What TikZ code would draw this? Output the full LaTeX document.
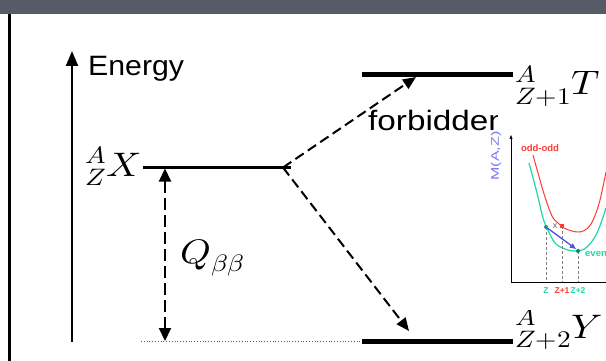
\documentclass[tikz,border=0pt]{standalone}
\usepackage{fontspec}
\usepackage{unicode-math}
\newfontfamily\hel{Liberation Sans}
\usetikzlibrary{arrows.meta,calc}
\definecolor{topbar}{HTML}{575B67}
\definecolor{oddred}{HTML}{FF3B30}
\definecolor{eventeal}{HTML}{22D6A8}
\definecolor{mblue}{HTML}{7A78EE}
\definecolor{arrblue}{HTML}{4F4FE0}
\tikzset{
  levelline/.style={line width=4.5pt},
  xlevelline/.style={line width=3pt},
  axisline/.style={line width=2pt,-{Triangle[length=15pt,width=12pt]}},
  qarrow/.style={line width=2pt,dash pattern=on 12pt off 5pt,{Triangle[length=13pt,width=12pt]}-{Triangle[length=13pt,width=12pt]}},
  decay/.style={line width=2pt,dash pattern=on 10pt off 5pt,-{Triangle[length=13pt,width=11pt]}},
  bigtxt/.style={inner sep=0pt,font=\hel\fontsize{28}{32}\selectfont,xscale=1.08},
  mathlbl/.style={inner sep=0pt,font=\fontsize{34}{40}\selectfont,xscale=1.15},
  small/.style={inner sep=0pt,font=\hel\bfseries\fontsize{8.5}{10}\selectfont},
  guide/.style={gray,densely dashed,line width=0.5pt},
}
\begin{document}
\begin{tikzpicture}[x=1pt,y=-1pt]
\useasboundingbox (0,0) rectangle (606,361);
\clip (0,0) rectangle (606,361);
\fill[topbar] (0,0) rectangle (606,14);
\draw[line width=3pt] (9.5,14) -- (9.5,361);
% energy axis
\coordinate (axb) at (72,342);
\coordinate (axt) at (72,51);
\draw[axisline] (axb) -- (axt);
\node[bigtxt,anchor=base west] (energy) at (88,76) {Energy};
% X level
\coordinate (xl) at (143,167.5);
\coordinate (xr) at (291,167.5);
\draw[xlevelline] (xl) -- (xr);
\node[mathlbl,anchor=base east] (xlab) at (141,176) {${}^{A}_{Z}X$};
\coordinate (vx) at (283,167.5);
% T level
\coordinate (tl) at (362,74.5);
\coordinate (tr) at (513,74.5);
\draw[levelline] (tl) -- (tr);
\node[mathlbl,anchor=base west] (tlab) at (515,95) {${}^{A}_{Z+1}T$};
% Y level
\coordinate (yl) at (362,341.5);
\coordinate (yr) at (513,341.5);
\draw[levelline] (yl) -- (yr);
\node[mathlbl,anchor=base west] (ylab) at (515,338) {${}^{A}_{Z+2}Y$};
% dotted reference
\coordinate (dl) at (141,341.5);
\draw[gray!70!black,dotted,line width=0.8pt] (dl) -- (yl);
% Q arrow
\coordinate (qt) at (165,168.5);
\coordinate (qb) at (165,341);
\draw[qarrow] (qb) -- (qt);
\node[mathlbl,anchor=base west] (qlab) at (180,263) {$Q_{\beta\beta}$};
% decays
\coordinate (tend) at (416,77);
\coordinate (yend) at (409,331);
\draw[decay] (vx) -- (tend);
\draw[decay] (vx) -- (yend);
\node[bigtxt,anchor=base west,xscale=1.1] (forb) at (368,131) {forbidden};
% inset
\fill[white] (498,110) rectangle (606,310);
\coordinate (io) at (511,282);
\coordinate (iy) at (511,135);
\coordinate (ix) at (606,282);
\draw[line width=0.6pt,-{Triangle[length=4pt,width=3pt]}] (io) -- (iy);
\draw[line width=0.6pt] (io) -- (ix);
\node[rotate=90,inner sep=0pt,text=mblue,font=\hel\fontsize{11}{13}\selectfont] (mlab) at (496,156) {\scalebox{1.45}[1]{M(A,Z)}};
\node[small,text=oddred,font=\hel\bfseries\fontsize{9.5}{11}\selectfont] (oddlab) at (540,148) {odd-odd};
\draw[oddred,line width=1pt] plot[smooth,tension=0.6] coordinates {(533,155) (538,173) (545,197) (552,216) (558,223) (564,228) (572,231) (580,232) (588,228) (594,218) (600,200) (606,172)};
\draw[eventeal,line width=1.2pt] plot[smooth,tension=0.6] coordinates {(529,163) (537,193) (543,218) (548,230) (555,243) (565,249) (577,251) (587,247) (597,233) (606,208)};
\coordinate (pz) at (546,227);
\coordinate (pz1) at (562,226);
\coordinate (pz2) at (578,251);
\coordinate (bz) at (546,282);
\coordinate (bz1) at (562,282);
\coordinate (bz2) at (578,282);
\draw[guide] (pz) -- (bz);
\draw[guide] (pz1) -- (bz1);
\draw[guide] (pz2) -- (bz2);
\draw[arrblue,line width=1.3pt,-{Triangle[length=6pt,width=5pt]}] (pz) -- (576,249);
\fill[eventeal!70!black] (pz) circle (2pt);
\fill[oddred] ($(pz1)+(-2,-2)$) rectangle ($(pz1)+(2,2)$);
\fill[eventeal!60!black] (pz2) circle (2pt);
\node[inner sep=0pt,text=gray!80!black,font=\hel\fontsize{9}{10}\selectfont] (cross) at (555,226) {x};
\node[small,text=eventeal] (zl) at (546,291) {Z};
\node[small,text=oddred] (z1l) at (562,291) {Z+1};
\node[small,text=eventeal] (z2l) at (578,291) {Z+2};
\node[small,anchor=west,text=eventeal,font=\hel\bfseries\fontsize{9.5}{11}\selectfont] (evenlab) at (585,254) {even-even};
\end{tikzpicture}
\end{document}
